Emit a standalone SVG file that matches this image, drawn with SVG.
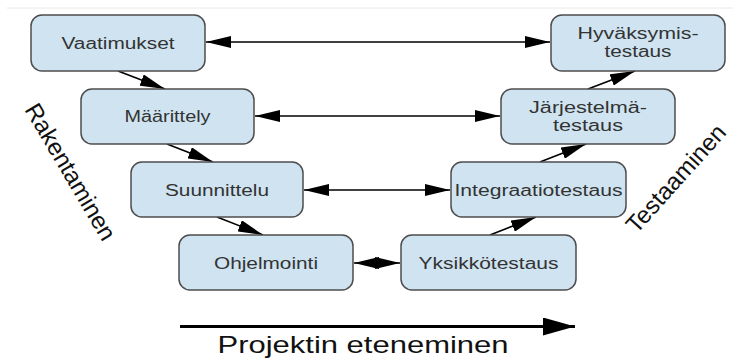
<svg xmlns="http://www.w3.org/2000/svg" width="733" height="360" viewBox="0 0 733 360">
<style>
.box rect{fill:#cfe3f1;stroke:#4d4d4d;stroke-width:1.5}
.box text{font-family:"Liberation Sans",Arial,sans-serif;font-size:16px;fill:#333;text-anchor:middle}
.conn line{stroke:#000;stroke-width:1.6}
.big{font-family:"Liberation Sans",Arial,sans-serif;font-size:24px;fill:#111;text-anchor:middle}
</style>
<defs>
<marker id="ah" markerUnits="userSpaceOnUse" markerWidth="25" markerHeight="12" refX="25" refY="6" orient="auto-start-reverse">
<path d="M0,0 L25,6 L0,12 z" fill="#000"/>
</marker>
<marker id="bh" markerUnits="userSpaceOnUse" markerWidth="32" markerHeight="18" refX="32" refY="9" orient="auto">
<path d="M0,0 L32,9 L0,18 z" fill="#000"/>
</marker>
</defs>
<rect width="733" height="360" fill="#fff"/>
<line x1="7" y1="8" x2="733" y2="8" stroke="#e8e8e8" stroke-width="1"/>

<g class="conn">
<line x1="206" y1="42" x2="550" y2="42" marker-start="url(#ah)" marker-end="url(#ah)"/>
<line x1="255" y1="116" x2="500" y2="116" marker-start="url(#ah)" marker-end="url(#ah)"/>
<line x1="304" y1="190" x2="450" y2="190" marker-start="url(#ah)" marker-end="url(#ah)"/>
<line x1="354" y1="263" x2="400" y2="263" marker-start="url(#ah)" marker-end="url(#ah)"/>
<line x1="118" y1="71" x2="165" y2="89" marker-end="url(#ah)"/>
<line x1="167" y1="144" x2="213" y2="162" marker-end="url(#ah)"/>
<line x1="217" y1="217" x2="263" y2="235" marker-end="url(#ah)"/>
<line x1="490" y1="235" x2="536" y2="217" marker-end="url(#ah)"/>
<line x1="540" y1="162" x2="586" y2="144" marker-end="url(#ah)"/>
<line x1="588" y1="89" x2="635" y2="71" marker-end="url(#ah)"/>
<line x1="180" y1="326.5" x2="575" y2="326.5" style="stroke-width:3" marker-end="url(#bh)"/>
</g>

<g id="vaatimukset" class="box">
<rect x="31" y="15" width="174" height="56" rx="11"/>
<text x="118" y="48.5" textLength="113" lengthAdjust="spacingAndGlyphs">Vaatimukset</text>
</g>
<g id="maarittely" class="box">
<rect x="81" y="89" width="173" height="55" rx="11"/>
<text x="167.5" y="122" textLength="86" lengthAdjust="spacingAndGlyphs">Määrittely</text>
</g>
<g id="suunnittelu" class="box">
<rect x="131" y="162" width="172" height="55" rx="11"/>
<text x="217" y="195.5" textLength="104" lengthAdjust="spacingAndGlyphs">Suunnittelu</text>
</g>
<g id="ohjelmointi" class="box">
<rect x="179" y="235" width="174" height="55" rx="11"/>
<text x="266" y="268.5" textLength="104" lengthAdjust="spacingAndGlyphs">Ohjelmointi</text>
</g>
<g id="yksikkotestaus" class="box">
<rect x="401" y="235" width="175" height="55" rx="11"/>
<text x="488.5" y="268.5" textLength="140" lengthAdjust="spacingAndGlyphs">Yksikkötestaus</text>
</g>
<g id="integraatiotestaus" class="box">
<rect x="451" y="162" width="175" height="55" rx="11"/>
<text x="538.5" y="195.5" textLength="168" lengthAdjust="spacingAndGlyphs">Integraatiotestaus</text>
</g>
<g id="jarjestelmatestaus" class="box">
<rect x="501" y="89" width="174" height="55" rx="11"/>
<text x="588" y="113" textLength="118" lengthAdjust="spacingAndGlyphs">Järjestelmä-</text>
<text x="588" y="131" textLength="70" lengthAdjust="spacingAndGlyphs">testaus</text>
</g>
<g id="hyvaksymistestaus" class="box">
<rect x="551" y="15" width="174" height="56" rx="11"/>
<text x="638" y="38.5" textLength="121" lengthAdjust="spacingAndGlyphs">Hyväksymis-</text>
<text x="638" y="57" textLength="67" lengthAdjust="spacingAndGlyphs">testaus</text>
</g>

<text class="big" transform="translate(63.5,176) rotate(59.4)">Rakentaminen</text>
<text class="big" transform="translate(682,184) rotate(-48)">Testaaminen</text>
<text class="big" x="363" y="353" textLength="291" lengthAdjust="spacingAndGlyphs">Projektin eteneminen</text>
</svg>
